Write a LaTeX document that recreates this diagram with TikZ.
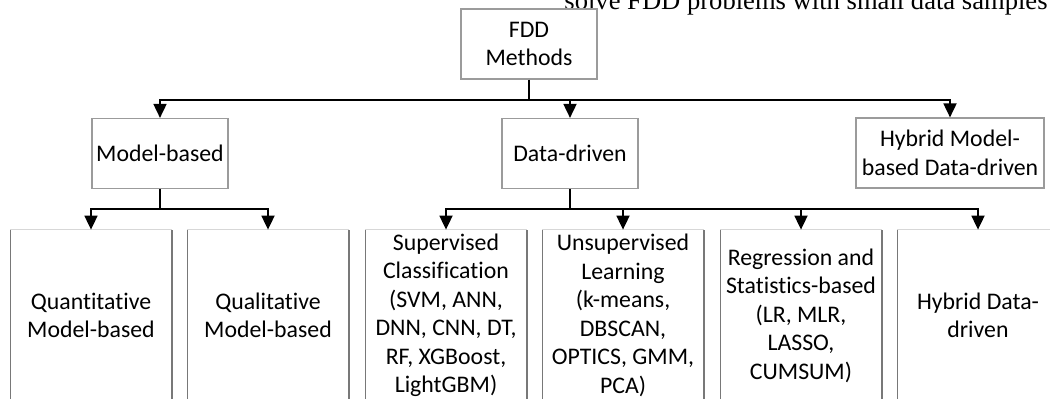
\documentclass[tikz,border=0pt]{standalone}
\usepackage{fontspec}
\setmainfont{Carlito}[Ligatures=NoCommon]
\newfontfamily\serifnote{Liberation Serif}
\usetikzlibrary{arrows.meta}
\definecolor{boxgray}{RGB}{155,155,155}
\definecolor{sidegray}{RGB}{120,120,120}
\definecolor{topgray}{RGB}{215,215,215}
\begin{document}
\begin{tikzpicture}[x=0.5pt,y=-0.5pt,
  txt/.style={font=\fontsize{11.9}{14.25}\selectfont},
  box/.style={txt, draw=boxgray, line width=0.6pt, align=center, inner sep=0pt, minimum height=35pt},
  leaf/.style={txt, align=center, inner sep=0pt, minimum width=80.5pt, minimum height=85.5pt},
  conn/.style={line width=0.9pt, black},
  arr/.style={conn, -{Triangle[length=7pt,width=6.5pt]}},
  side/.style={draw=sidegray, line width=0.6pt},
  topl/.style={draw=topgray, line width=0.6pt}]
\useasboundingbox (0,0) rectangle (1050,398);
\clip (0,0) rectangle (1050,398);

\node[anchor=base east, font=\serifnote\fontsize{13.3}{16}\selectfont, inner sep=0pt] (note) at (1048,9) {solve FDD problems with small data samples};

\node[box, minimum width=68pt] (fdd) at (529,44) {FDD\\Methods};
\node[box, minimum width=68pt] (mb) at (160,153.5) {Model-based};
\node[box, minimum width=68pt] (dd) at (570,153.5) {Data-driven};
\node[box, minimum width=94pt] (hy) at (950,153) {Hybrid Model-\\based Data-driven};

\node[leaf] (q1) at (91,315.5) {Quantitative\\Model-based};
\node[leaf] (q2) at (268,315.5) {Qualitative\\Model-based};
\node[leaf] (s1) at (446,315.5) {Supervised\\Classification\\(SVM, ANN,\\DNN, CNN, DT,\\RF, XGBoost,\\LightGBM)};
\node[leaf] (s2) at (623,315.5) {Unsupervised\\Learning\\(k-means,\\DBSCAN,\\OPTICS, GMM,\\PCA)};
\node[leaf] (s3) at (801,315.5) {Regression and\\Statistics-based\\(LR, MLR,\\LASSO,\\CUMSUM)};
\node[leaf] (s4) at (978,315.5) {Hybrid Data-\\driven};

\foreach \n in {q1,q2,s1,s2,s3,s4}{
  \draw[side] (\n.south west) -- (\n.north west);
  \draw[side] (\n.south east) -- (\n.north east);
  \draw[topl] (\n.north west) -- (\n.north east);
}

\coordinate (j1) at (529,100);
\coordinate (j2) at (160,209);
\coordinate (j3) at (570,209);

\draw[conn] (fdd) -- (j1);
\draw[arr] (j1) -| (mb);
\draw[arr] (j1) -| (dd);
\draw[arr] (j1) -| (hy);

\draw[conn] (mb) -- (j2);
\draw[arr] (j2) -| (q1);
\draw[arr] (j2) -| (q2);

\draw[conn] (dd) -- (j3);
\draw[arr] (j3) -| (s1);
\draw[arr] (j3) -| (s2);
\draw[arr] (j3) -| (s3);
\draw[arr] (j3) -| (s4);
\end{tikzpicture}
\end{document}
